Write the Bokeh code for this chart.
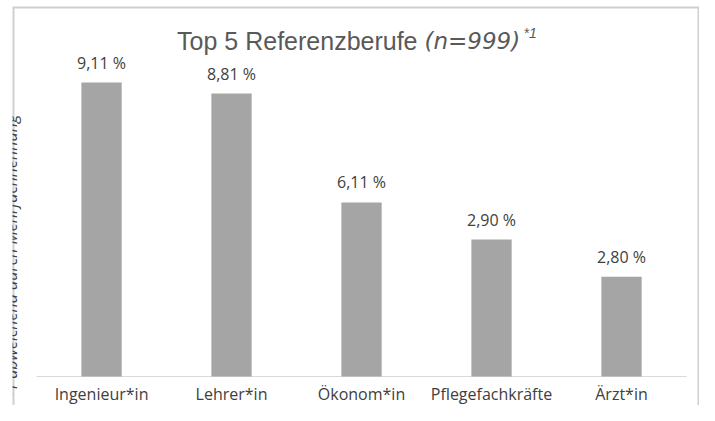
import numpy as np
from bokeh.plotting import figure
from bokeh.models import Range1d, Label, ColumnDataSource
from bokeh.core.properties import value
from bokeh.embed import file_html
from bokeh.resources import INLINE

# ---- data ----
categories = ["Ingenieur*in", "Lehrer*in", "Ökonom*in", "Pflegefachkräfte", "Ärzt*in"]
share_labels = ["9,11 %", "8,81 %", "6,11 %", "2,90 %", "2,80 %"]
bar_heights = [8.80, 8.47, 5.21, 4.10, 2.99]   # bar heights as drawn in the picture
title_main = "Top 5 Referenzberufe"
title_n = "(n=999)"
title_note = "*1"
side_note = "*1 abweichend durch Mehrfachnennung"

W, H = 699, 405
n = len(categories)
xs = np.arange(n) + 0.5
K = 33.4            # pixels per unit on the y axis
BASE = 376          # pixel row of the baseline
x0, x1 = -0.185, n + 0.1
y0, y1 = -(H - BASE) / K, BASE / K

p = figure(width=W, height=H, output_backend="svg", toolbar_location=None,
           x_range=Range1d(x0, x1), y_range=Range1d(y0, y1),
           min_border_left=12, min_border_right=0, min_border_top=0, min_border_bottom=0)
p.axis.visible = False
p.grid.visible = False
p.outline_line_color = None
p.background_fill_color = "white"
p.border_fill_color = "white"

src = ColumnDataSource(dict(x=xs, top=bar_heights, lab=share_labels, cat=categories,
                            zero=np.zeros(n)))

# baseline
p.segment(x0=[0], x1=[n], y0=[0], y1=[0], line_color="#d9d9d9", line_width=1)

p.vbar(x="x", top="top", bottom=0, width=0.31, source=src,
       fill_color="#a5a5a5", line_color=None)

p.text(x="x", y="top", text="lab", source=src, text_align="center",
       text_baseline="middle", y_offset=-20, text_font=value("Open Sans"),
       text_font_size="16px", text_color="#404040")

p.text(x="x", y="zero", text="cat", source=src, text_align="center",
       text_baseline="middle", y_offset=17, text_font=value("Open Sans"),
       text_font_size="16px", text_color="#404040")

# title pieces
tx = n / 2
ty = (BASE - 40) / K
p.text(x=[tx], y=[ty], text=[title_main], text_align="right", text_baseline="middle",
       x_offset=56, text_font=value("Liberation Sans"), text_font_size="25px",
       text_color="#595959")
p.text(x=[tx], y=[ty], text=[title_n], text_align="left", text_baseline="middle",
       x_offset=63, text_font=value("DejaVu Sans"), text_font_size="23px",
       text_font_style="italic", text_color="#595959")
p.text(x=[tx], y=[ty], text=[title_note], text_align="left", text_baseline="middle",
       x_offset=162, y_offset=-8, text_font=value("Liberation Sans"), text_font_size="14px",
       text_font_style="italic", text_color="#595959")

# border (left, top, right)
bc = "#d0d0d0"
ytop = y1 - 7 / K
p.segment(x0=[x0, x0, x1], x1=[x0, x1, x1], y0=[y0, ytop, y0], y1=[ytop, ytop, ytop],
          line_color=bc, line_width=[4, 2, 4])

# rotated side note (partly cut at the left edge, as in the original)
p.add_layout(Label(x=x0 - 2 / 130, y=(BASE - 400) / K, text=side_note, angle=np.pi / 2,
                   text_align="left", text_baseline="alphabetic",
                   text_font="Open Sans", text_font_size="16px", text_font_style="italic",
                   text_color="#404040"))

open("out.html", "w").write(file_html(p, INLINE))
